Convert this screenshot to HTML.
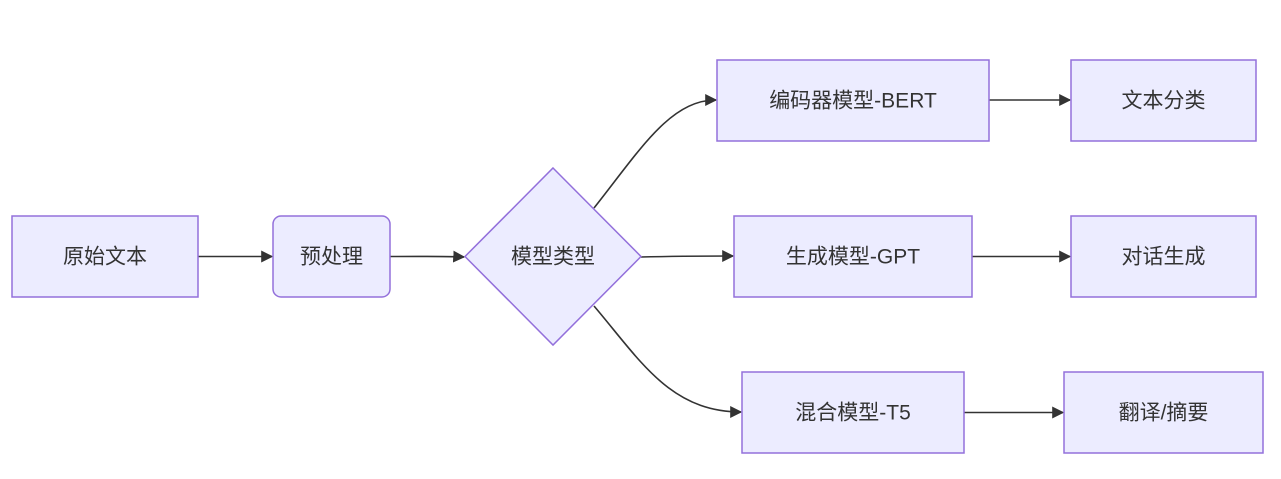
<!DOCTYPE html>
<html><head><meta charset="utf-8"><style>
html,body{margin:0;padding:0;background:#fff;}
svg{display:block}
text{font-family:"Liberation Sans","Noto Sans CJK SC",sans-serif;font-size:21px;fill:#333;text-anchor:middle;dominant-baseline:central}
.n{fill:#ECECFF;stroke:#9370DB;stroke-width:1.5}
.e{fill:none;stroke:#333;stroke-width:1.6}
</style></head><body>
<svg width="1281" height="479" viewBox="0 0 1281 479">
<defs><marker id="a" viewBox="0 0 10 10" refX="9" refY="5" markerWidth="8" markerHeight="8" markerUnits="userSpaceOnUse" orient="auto"><path d="M0,0L10,5L0,10z" fill="#333"/></marker>
<marker id="b" viewBox="0 0 10 10" refX="9" refY="5" markerWidth="12" markerHeight="12" markerUnits="userSpaceOnUse" orient="auto"><path d="M0,0L10,5L0,10z" fill="#333"/></marker></defs>
<path class="e" d="M198,256.5H272" marker-end="url(#b)"/>
<path class="e" d="M390,256.5C430,256.5 440,256 464,257" marker-end="url(#b)"/>
<path class="e" d="M594,208C640,150 670,100 716,100" marker-end="url(#b)"/>
<path class="e" d="M641,257C680,256 700,256 733,256" marker-end="url(#b)"/>
<path class="e" d="M594,306C640,360 670,412 741,412" marker-end="url(#b)"/>
<path class="e" d="M989,100H1070" marker-end="url(#b)"/>
<path class="e" d="M972,256.5H1070" marker-end="url(#b)"/>
<path class="e" d="M964,412.5H1063" marker-end="url(#b)"/>
<rect class="n" x="12" y="216" width="186" height="81"/><text x="105" y="257">原始文本</text>
<rect class="n" x="273" y="216" width="117" height="81" rx="8"/><text x="331.5" y="257">预处理</text>
<polygon class="n" points="553,168 641,256.5 553,345 465,256.5"/><text x="553" y="257">模型类型</text>
<rect class="n" x="717" y="60" width="272" height="81"/><text x="853" y="101">编码器模型-BERT</text>
<rect class="n" x="1071" y="60" width="185" height="81"/><text x="1163.5" y="101">文本分类</text>
<rect class="n" x="734" y="216" width="238" height="81"/><text x="853" y="257">生成模型-GPT</text>
<rect class="n" x="1071" y="216" width="185" height="81"/><text x="1163.5" y="257">对话生成</text>
<rect class="n" x="742" y="372" width="222" height="81"/><text x="853" y="413">混合模型-T5</text>
<rect class="n" x="1064" y="372" width="199" height="81"/><text x="1163.5" y="413">翻译/摘要</text>
</svg>
</body></html>
